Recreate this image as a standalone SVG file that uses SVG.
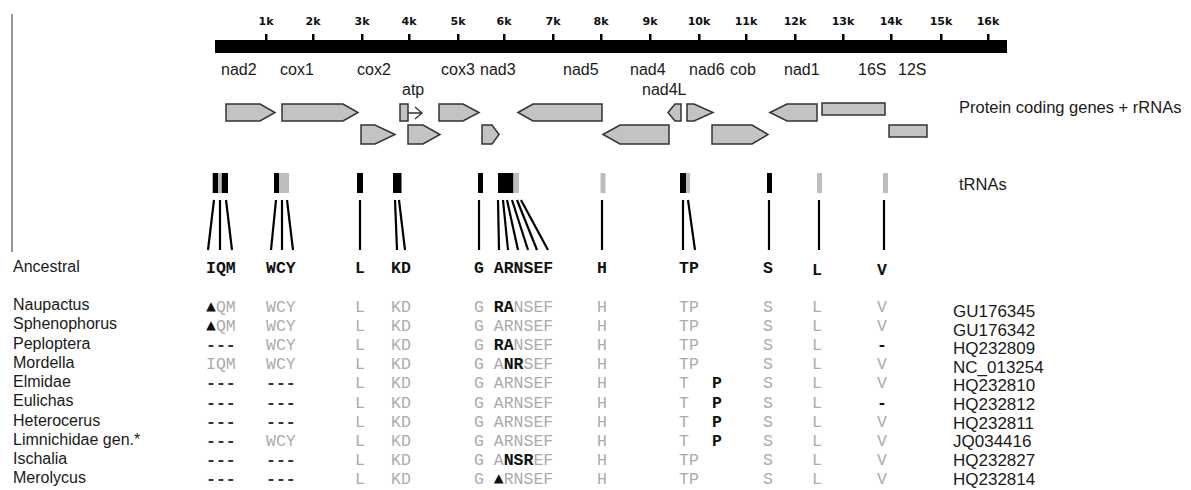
<svg xmlns="http://www.w3.org/2000/svg" width="1191" height="490" viewBox="0 0 1191 490">
<style>
.sans{font-family:"Liberation Sans",Arial,sans-serif;fill:#1a1a1a}
.gl{font-size:16px}
.nm{font-size:16px}
.acc{font-size:17px}
.tick{font-family:"DejaVu Sans",sans-serif;font-size:11px;font-weight:bold;fill:#111;text-anchor:middle}
.mono{font-family:"Liberation Mono","DejaVu Sans Mono",monospace;font-size:16.5px;fill:#ababab}
.bk{font-weight:bold;fill:#111}
.dash{font-weight:bold;fill:#333}
.gene{fill:#c3c3c3;stroke:#333;stroke-width:1.5}
.tb{fill:#000}
.tg{fill:#bdbdbd}
.con line{stroke:#000;stroke-width:2.2}
</style>
<rect width="1191" height="490" fill="#fff"/>
<line x1="12" y1="14" x2="12" y2="252" stroke="#555" stroke-width="1.2"/>

<g id="scale">
  <rect x="215" y="40" width="792" height="13" fill="#000"/>
  <g fill="#000">
    <rect x="265" y="34" width="2.5" height="7"/><rect x="312" y="34" width="2.5" height="7"/>
    <rect x="361" y="34" width="2.5" height="7"/><rect x="408" y="34" width="2.5" height="7"/>
    <rect x="457" y="34" width="2.5" height="7"/><rect x="503" y="34" width="2.5" height="7"/>
    <rect x="552" y="34" width="2.5" height="7"/><rect x="600" y="34" width="2.5" height="7"/>
    <rect x="649" y="34" width="2.5" height="7"/><rect x="698" y="34" width="2.5" height="7"/>
    <rect x="745" y="34" width="2.5" height="7"/><rect x="794" y="34" width="2.5" height="7"/>
    <rect x="842" y="34" width="2.5" height="7"/><rect x="890" y="34" width="2.5" height="7"/>
    <rect x="940" y="34" width="2.5" height="7"/><rect x="987" y="34" width="2.5" height="7"/>
  </g>
  <text class="tick" x="266" y="25">1k</text><text class="tick" x="313" y="25">2k</text>
  <text class="tick" x="362" y="25">3k</text><text class="tick" x="409" y="25">4k</text>
  <text class="tick" x="458" y="25">5k</text><text class="tick" x="504" y="25">6k</text>
  <text class="tick" x="553" y="25">7k</text><text class="tick" x="601" y="25">8k</text>
  <text class="tick" x="650" y="25">9k</text><text class="tick" x="699" y="25">10k</text>
  <text class="tick" x="746" y="25">11k</text><text class="tick" x="795" y="25">12k</text>
  <text class="tick" x="843" y="25">13k</text><text class="tick" x="891" y="25">14k</text>
  <text class="tick" x="941" y="25">15k</text><text class="tick" x="988" y="25">16k</text>
</g>

<g id="gene-labels" class="sans gl">
  <text x="221" y="75">nad2</text><text x="280" y="75">cox1</text>
  <text x="357" y="75">cox2</text><text x="441" y="75">cox3</text>
  <text x="480" y="75">nad3</text><text x="563" y="75">nad5</text>
  <text x="630" y="75">nad4</text><text x="689" y="75">nad6</text>
  <text x="730" y="75">cob</text><text x="784" y="75">nad1</text>
  <text x="858" y="75">16S</text><text x="898" y="75">12S</text>
  <text x="402" y="95">atp</text><text x="642" y="95">nad4L</text>
</g>

<g id="genes">
  <polygon id="g-nad2" class="gene" points="226,104 260,104 275,112.5 260,121 226,121"/>
  <polygon id="g-cox1" class="gene" points="282,104 343,104 358,112.5 343,121 282,121"/>
  <g id="g-atp8">
    <rect class="gene" x="400" y="104" width="8" height="17"/>
    <path d="M408,113 H422 M415,107 L422,113 L415,119" fill="none" stroke="#333" stroke-width="1.3"/>
  </g>
  <polygon id="g-cox3" class="gene" points="439,104 463,104 479,112.5 463,121 439,121"/>
  <polygon id="g-nad5" class="gene" points="518,112.5 533,104 602,104 602,121 533,121"/>
  <polygon id="g-nad4L" class="gene" points="668,112.5 675,104 681,104 681,121 675,121"/>
  <polygon id="g-nad6" class="gene" points="687,104 694,104 713,112.5 694,121 687,121"/>
  <polygon id="g-nad1" class="gene" points="770,112.5 787,104 817,104 817,121 787,121"/>
  <rect id="g-16S" class="gene" x="822" y="103" width="63" height="12"/>
  <polygon id="g-cox2" class="gene" points="361,125 375,125 395,134.5 375,144 361,144"/>
  <polygon id="g-atp6" class="gene" points="408,125 423,125 440,134.5 423,144 408,144"/>
  <polygon id="g-nad3" class="gene" points="482,125 492,125 499,134.5 492,144 482,144"/>
  <polygon id="g-nad4" class="gene" points="603,134.5 620,125 669,125 669,144 620,144"/>
  <polygon id="g-cob" class="gene" points="712,125 752,125 768,134.5 752,144 712,144"/>
  <rect id="g-12S" class="gene" x="889" y="125" width="38" height="12"/>
</g>

<g id="row-labels" class="sans">
  <text x="959" y="113" font-size="16.5">Protein coding genes + rRNAs</text>
  <text x="959" y="190" font-size="16.5">tRNAs</text>
</g>

<g id="trnas">
  <rect class="tb" x="212.7" y="173" width="5.6" height="20"/>
  <rect class="tg" x="218.3" y="173" width="3.4" height="20"/>
  <rect class="tb" x="221.7" y="173" width="6.3" height="20"/>
  <rect class="tb" x="274" y="173" width="5" height="20"/>
  <rect class="tg" x="279" y="173" width="10" height="20"/>
  <rect class="tb" x="357" y="173" width="6" height="20"/>
  <rect class="tb" x="393" y="173" width="8.5" height="20"/>
  <rect class="tb" x="478" y="173" width="5" height="20"/>
  <rect class="tb" x="498" y="173" width="15.5" height="20"/>
  <rect class="tg" x="513.5" y="173" width="5.5" height="20"/>
  <rect class="tg" x="600.5" y="173" width="5" height="20"/>
  <rect class="tb" x="680" y="173" width="6" height="20"/>
  <rect class="tg" x="686" y="173" width="4" height="20"/>
  <rect class="tb" x="767" y="173" width="5" height="20"/>
  <rect class="tg" x="817" y="173" width="5" height="20"/>
  <rect class="tg" x="883" y="173" width="5" height="20"/>
</g>

<g id="connectors" class="con">
  <line x1="214" y1="200" x2="208" y2="250"/>
  <line x1="220" y1="200" x2="220" y2="250"/>
  <line x1="226" y1="200" x2="232" y2="250"/>
  <line x1="276" y1="200" x2="271" y2="250"/>
  <line x1="282" y1="200" x2="282" y2="250"/>
  <line x1="287" y1="200" x2="293" y2="250"/>
  <line x1="360" y1="200" x2="360" y2="250"/>
  <line x1="395" y1="200" x2="397" y2="250"/>
  <line x1="399" y1="200" x2="405" y2="250"/>
  <line x1="479" y1="200" x2="479" y2="250"/>
  <line x1="498" y1="200" x2="499" y2="250"/>
  <line x1="503" y1="200" x2="508" y2="250"/>
  <line x1="507" y1="200" x2="518" y2="250"/>
  <line x1="512" y1="200" x2="528" y2="250"/>
  <line x1="517" y1="200" x2="537" y2="250"/>
  <line x1="521" y1="200" x2="548" y2="250"/>
  <line x1="602" y1="200" x2="602" y2="250"/>
  <line x1="683" y1="200" x2="683" y2="250"/>
  <line x1="688" y1="200" x2="695" y2="250"/>
  <line x1="769" y1="200" x2="769" y2="250"/>
  <line x1="819" y1="200" x2="819" y2="250"/>
  <line x1="884" y1="200" x2="884" y2="250"/>
</g>

<g id="ancestral">
  <text class="sans nm" x="13" y="272">Ancestral</text>
  <text class="mono bk" y="273"><tspan x="206">IQM</tspan><tspan x="266">WCY</tspan><tspan x="355">L</tspan><tspan x="391">KD</tspan><tspan x="474">G ARNSEF</tspan><tspan x="597">H</tspan><tspan x="679">TP</tspan><tspan x="763">S</tspan></text>
  <text class="mono bk" y="275"><tspan x="812">L</tspan><tspan x="877">V</tspan></text>
</g>

<g id="species-names" class="sans nm">
  <text x="13" y="310">Naupactus</text>
  <text x="13" y="329">Sphenophorus</text>
  <text x="13" y="348.5">Peploptera</text>
  <text x="13" y="368">Mordella</text>
  <text x="13" y="387">Elmidae</text>
  <text x="13" y="406">Eulichas</text>
  <text x="13" y="425.5">Heterocerus</text>
  <text x="13" y="445">Limnichidae gen.*</text>
  <text x="13" y="464">Ischalia</text>
  <text x="13" y="483">Merolycus</text>
</g>

<g id="accessions" class="sans acc">
  <text x="953" y="317">GU176345</text>
  <text x="953" y="335.5">GU176342</text>
  <text x="953" y="354">HQ232809</text>
  <text x="953" y="372.5">NC_013254</text>
  <text x="953" y="391">HQ232810</text>
  <text x="953" y="410">HQ232812</text>
  <text x="953" y="428.5">HQ232811</text>
  <text x="953" y="447">JQ034416</text>
  <text x="953" y="466">HQ232827</text>
  <text x="953" y="485">HQ232814</text>
</g>

<g id="rows" class="mono">
  <text id="r-naupactus" y="312"><tspan x="206" class="bk">▲</tspan><tspan x="215.9">QM</tspan><tspan x="266">WCY</tspan><tspan x="355">L</tspan><tspan x="391">KD</tspan><tspan x="474">G</tspan><tspan x="493.8" class="bk">RA</tspan><tspan x="513.6">NSEF</tspan><tspan x="597">H</tspan><tspan x="679">TP</tspan><tspan x="763">S</tspan><tspan x="812">L</tspan><tspan x="877">V</tspan></text>
  <text id="r-sphenophorus" y="331.1"><tspan x="206" class="bk">▲</tspan><tspan x="215.9">QM</tspan><tspan x="266">WCY</tspan><tspan x="355">L</tspan><tspan x="391">KD</tspan><tspan x="474">G ARNSEF</tspan><tspan x="597">H</tspan><tspan x="679">TP</tspan><tspan x="763">S</tspan><tspan x="812">L</tspan><tspan x="877">V</tspan></text>
  <text id="r-peploptera" y="350.2"><tspan x="206" class="dash">---</tspan><tspan x="266">WCY</tspan><tspan x="355">L</tspan><tspan x="391">KD</tspan><tspan x="474">G</tspan><tspan x="493.8" class="bk">RA</tspan><tspan x="513.6">NSEF</tspan><tspan x="597">H</tspan><tspan x="679">TP</tspan><tspan x="763">S</tspan><tspan x="812">L</tspan><tspan x="877" class="bk">-</tspan></text>
  <text id="r-mordella" y="369.3"><tspan x="206">IQM</tspan><tspan x="266">WCY</tspan><tspan x="355">L</tspan><tspan x="391">KD</tspan><tspan x="474">G A</tspan><tspan x="503.7" class="bk">NR</tspan><tspan x="523.5">SEF</tspan><tspan x="597">H</tspan><tspan x="679">TP</tspan><tspan x="763">S</tspan><tspan x="812">L</tspan><tspan x="877">V</tspan></text>
  <text id="r-elmidae" y="388.4"><tspan x="206" class="dash">---</tspan><tspan x="266" class="dash">---</tspan><tspan x="355">L</tspan><tspan x="391">KD</tspan><tspan x="474">G ARNSEF</tspan><tspan x="597">H</tspan><tspan x="679">T</tspan><tspan x="712" class="bk">P</tspan><tspan x="763">S</tspan><tspan x="812">L</tspan><tspan x="877">V</tspan></text>
  <text id="r-eulichas" y="407.5"><tspan x="206" class="dash">---</tspan><tspan x="266" class="dash">---</tspan><tspan x="355">L</tspan><tspan x="391">KD</tspan><tspan x="474">G ARNSEF</tspan><tspan x="597">H</tspan><tspan x="679">T</tspan><tspan x="712" class="bk">P</tspan><tspan x="763">S</tspan><tspan x="812">L</tspan><tspan x="877" class="bk">-</tspan></text>
  <text id="r-heterocerus" y="426.6"><tspan x="206" class="dash">---</tspan><tspan x="266" class="dash">---</tspan><tspan x="355">L</tspan><tspan x="391">KD</tspan><tspan x="474">G ARNSEF</tspan><tspan x="597">H</tspan><tspan x="679">T</tspan><tspan x="712" class="bk">P</tspan><tspan x="763">S</tspan><tspan x="812">L</tspan><tspan x="877">V</tspan></text>
  <text id="r-limnichidae" y="445.7"><tspan x="206" class="dash">---</tspan><tspan x="266">WCY</tspan><tspan x="355">L</tspan><tspan x="391">KD</tspan><tspan x="474">G ARNSEF</tspan><tspan x="597">H</tspan><tspan x="679">T</tspan><tspan x="712" class="bk">P</tspan><tspan x="763">S</tspan><tspan x="812">L</tspan><tspan x="877">V</tspan></text>
  <text id="r-ischalia" y="464.8"><tspan x="206" class="dash">---</tspan><tspan x="266" class="dash">---</tspan><tspan x="355">L</tspan><tspan x="391">KD</tspan><tspan x="474">G A</tspan><tspan x="503.7" class="bk">NSR</tspan><tspan x="533.4">EF</tspan><tspan x="597">H</tspan><tspan x="679">TP</tspan><tspan x="763">S</tspan><tspan x="812">L</tspan><tspan x="877">V</tspan></text>
  <text id="r-merolycus" y="483.9"><tspan x="206" class="dash">---</tspan><tspan x="266" class="dash">---</tspan><tspan x="355">L</tspan><tspan x="391">KD</tspan><tspan x="474">G</tspan><tspan x="493.8" class="bk">▲</tspan><tspan x="503.7">RNSEF</tspan><tspan x="597">H</tspan><tspan x="679">TP</tspan><tspan x="763">S</tspan><tspan x="812">L</tspan><tspan x="877">V</tspan></text>
</g>
</svg>
